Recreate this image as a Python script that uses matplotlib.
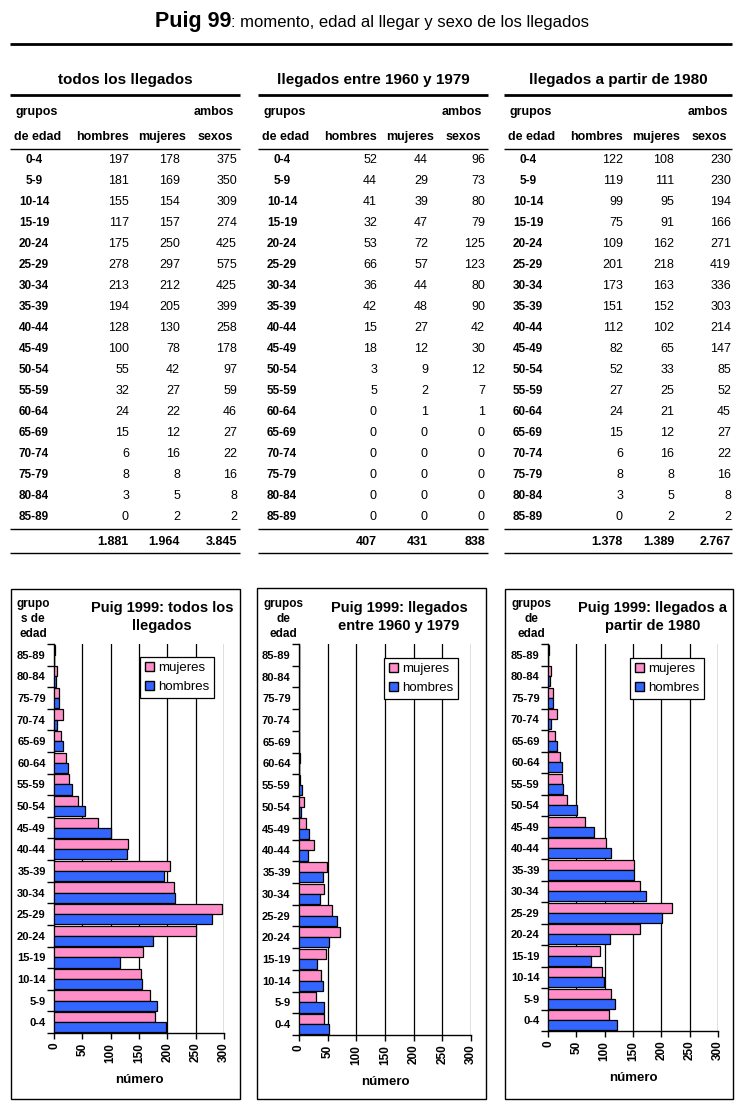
import matplotlib
matplotlib.use('Agg')
import matplotlib.pyplot as plt
from matplotlib.patches import Rectangle, Patch
from matplotlib.lines import Line2D

W, H = 742, 1117

grupos = ['0-4', '5-9', '10-14', '15-19', '20-24', '25-29', '30-34', '35-39', '40-44',
          '45-49', '50-54', '55-59', '60-64', '65-69', '70-74', '75-79', '80-84', '85-89']

# todos los llegados
todos_hombres = [197, 181, 155, 117, 175, 278, 213, 194, 128, 100, 55, 32, 24, 15, 6, 8, 3, 0]
todos_mujeres = [178, 169, 154, 157, 250, 297, 212, 205, 130, 78, 42, 27, 22, 12, 16, 8, 5, 2]
todos_ambos = [375, 350, 309, 274, 425, 575, 425, 399, 258, 178, 97, 59, 46, 27, 22, 16, 8, 2]
todos_total = ['1.881', '1.964', '3.845']

# llegados entre 1960 y 1979
e60_hombres = [52, 44, 41, 32, 53, 66, 36, 42, 15, 18, 3, 5, 0, 0, 0, 0, 0, 0]
e60_mujeres = [44, 29, 39, 47, 72, 57, 44, 48, 27, 12, 9, 2, 1, 0, 0, 0, 0, 0]
e60_ambos = [96, 73, 80, 79, 125, 123, 80, 90, 42, 30, 12, 7, 1, 0, 0, 0, 0, 0]
e60_total = ['407', '431', '838']

# llegados a partir de 1980
p80_hombres = [122, 119, 99, 75, 109, 201, 173, 151, 112, 82, 52, 27, 24, 15, 6, 8, 3, 0]
p80_mujeres = [108, 111, 95, 91, 162, 218, 163, 152, 102, 65, 33, 25, 21, 12, 16, 8, 5, 2]
p80_ambos = [230, 230, 194, 166, 271, 419, 336, 303, 214, 147, 85, 52, 45, 27, 22, 16, 8, 2]
p80_total = ['1.378', '1.389', '2.767']

x_ticks = [0, 50, 100, 150, 200, 250, 300]

PINK = '#ff8fc8'
BLUE = '#3366ff'

plt.rcParams['font.family'] = ['Liberation Sans', 'DejaVu Sans']


def fx(x):
    return x / W


def fy(y):
    return 1 - y / H


fig = plt.figure(figsize=(W / 100, H / 100), dpi=100)


def hline(y, x0, x1, lw=1.0):
    fig.add_artist(Line2D([fx(x0), fx(x1)], [fy(y), fy(y)], transform=fig.transFigure,
                          color='black', lw=lw, solid_capstyle='butt'))


def txt(x, y, s, **kw):
    fig.text(fx(x), fy(y), s, va='center', **kw)


# main title
t1 = fig.text(fx(155), fy(21), 'Puig 99', fontsize=15.5, fontweight='bold', va='center', ha='left')
fig.canvas.draw()
bb = t1.get_window_extent()
fig.text(bb.x1 / W, fy(23), ': momento, edad al llegar y sexo de los llegados',
         fontsize=12, va='center', ha='left')
hline(44, 10, 732, lw=2)


def draw_table(L, R, title, hombres, mujeres, ambos, total):
    txt((L + R) / 2, 80, title, fontsize=11, fontweight='bold', ha='center')
    hline(95, L, R, lw=2)
    txt(L + 6, 112, 'grupos', fontsize=9, fontweight='bold', ha='left')
    txt(L + 224, 112, 'ambos', fontsize=9, fontweight='bold', ha='right')
    txt(L + 4, 137, 'de edad', fontsize=9, fontweight='bold', ha='left')
    txt(L + 119, 137, 'hombres', fontsize=9, fontweight='bold', ha='right')
    txt(L + 176, 137, 'mujeres', fontsize=9, fontweight='bold', ha='right')
    txt(L + 223, 137, 'sexos', fontsize=9, fontweight='bold', ha='right')
    hline(149, L, R, lw=1)
    for i, g in enumerate(grupos):
        y = 160 + 21 * i
        txt(L + 24, y, g, fontsize=8.5, fontweight='bold', ha='center')
        txt(L + 119, y, str(hombres[i]), fontsize=9, ha='right')
        txt(L + 170, y, str(mujeres[i]), fontsize=9, ha='right')
        txt(L + 227, y, str(ambos[i]), fontsize=9, ha='right')
    hline(529, L, R, lw=1)
    txt(L + 119, 542, total[0], fontsize=9, fontweight='bold', ha='right')
    txt(L + 170, 542, total[1], fontsize=9, fontweight='bold', ha='right')
    txt(L + 227, 542, total[2], fontsize=9, fontweight='bold', ha='right')
    hline(553, L, R, lw=1)


draw_table(10, 240, 'todos los llegados', todos_hombres, todos_mujeres, todos_ambos, todos_total)
draw_table(258, 488, 'llegados entre 1960 y 1979', e60_hombres, e60_mujeres, e60_ambos, e60_total)
draw_table(504, 732, 'llegados a partir de 1980', p80_hombres, p80_mujeres, p80_ambos, p80_total)


def draw_chart(box, plot, title, title_x, ylab, ylab_x, legend_xy, hombres, mujeres):
    bx0, by0, bx1, by1 = box
    fig.add_artist(Rectangle((fx(bx0), fy(by1)), (bx1 - bx0) / W, (by1 - by0) / H,
                             transform=fig.transFigure, fill=False, edgecolor='black', lw=1))
    x0, ytop, x1, ybot = plot
    ax = fig.add_axes([fx(x0), fy(ybot), (x1 - x0) / W, (ybot - ytop) / H])
    pos = list(range(len(grupos)))
    ax.barh([p + 0.235 for p in pos], mujeres, height=0.47, color=PINK,
            edgecolor='black', linewidth=0.9, zorder=3)
    ax.barh([p - 0.235 for p in pos], hombres, height=0.47, color=BLUE,
            edgecolor='black', linewidth=0.9, zorder=3)
    ax.set_xlim(0, 300)
    ax.set_ylim(-0.5, len(grupos) - 0.5)
    ax.set_xticks(x_ticks)
    ax.set_xticklabels([str(v) for v in x_ticks], rotation=90, fontsize=8.5, fontweight='bold')
    ax.tick_params(axis='x', direction='out', length=4, width=1, pad=3)
    ax.set_yticks([p - 0.5 for p in pos] + [len(grupos) - 0.5])
    ax.set_yticklabels([])
    ax.tick_params(axis='y', which='major', direction='out', length=5, width=1)
    ax.set_yticks(pos, minor=True)
    ax.set_yticklabels(grupos, minor=True, fontsize=8, fontweight='bold')
    ax.tick_params(axis='y', which='minor', length=0, pad=6)
    ax.grid(axis='x', color='black', lw=0.9)
    ax.set_axisbelow(True)
    for s in ['top', 'right']:
        ax.spines[s].set_visible(False)
    for s in ['left', 'bottom']:
        ax.spines[s].set_linewidth(1)
    ax.set_xlabel('número', fontsize=9.5, fontweight='bold', labelpad=8)
    fig.text(fx(title_x), fy(617), title, fontsize=10.5, fontweight='bold', ha='center',
             va='center', linespacing=1.4)
    fig.text(fx(ylab_x), fy(619), ylab, fontsize=8.5, fontweight='bold', ha='center',
             va='center', linespacing=1.3)
    leg = ax.legend([Patch(facecolor=PINK, edgecolor='black'), Patch(facecolor=BLUE, edgecolor='black')],
                    ['mujeres', 'hombres'], loc='upper left',
                    bbox_to_anchor=(fx(legend_xy[0]), fy(legend_xy[1])), bbox_transform=fig.transFigure,
                    fancybox=False, edgecolor='black', framealpha=1, fontsize=9.5,
                    borderpad=0.35, handlelength=0.7, handleheight=0.7, handletextpad=0.3,
                    labelspacing=0.55, borderaxespad=0)
    leg.get_frame().set_linewidth(0.9)
    return ax


draw_chart((11, 589, 240, 1099), (54, 644, 224, 1033), 'Puig 1999: todos los\nllegados', 162,
           'grupo\ns de\nedad', 33, (140, 657), todos_hombres, todos_mujeres)
draw_chart((257, 588, 486, 1099), (299, 644, 471, 1035), 'Puig 1999: llegados\nentre 1960 y 1979', 399,
           'grupos\nde\nedad', 283, (384, 658), e60_hombres, e60_mujeres)
draw_chart((505, 589, 733, 1099), (548, 644, 718, 1031), 'Puig 1999: llegados a\npartir de 1980', 653,
           'grupos\nde\nedad', 531, (630, 658), p80_hombres, p80_mujeres)

fig.savefig('out.png', dpi=100)
